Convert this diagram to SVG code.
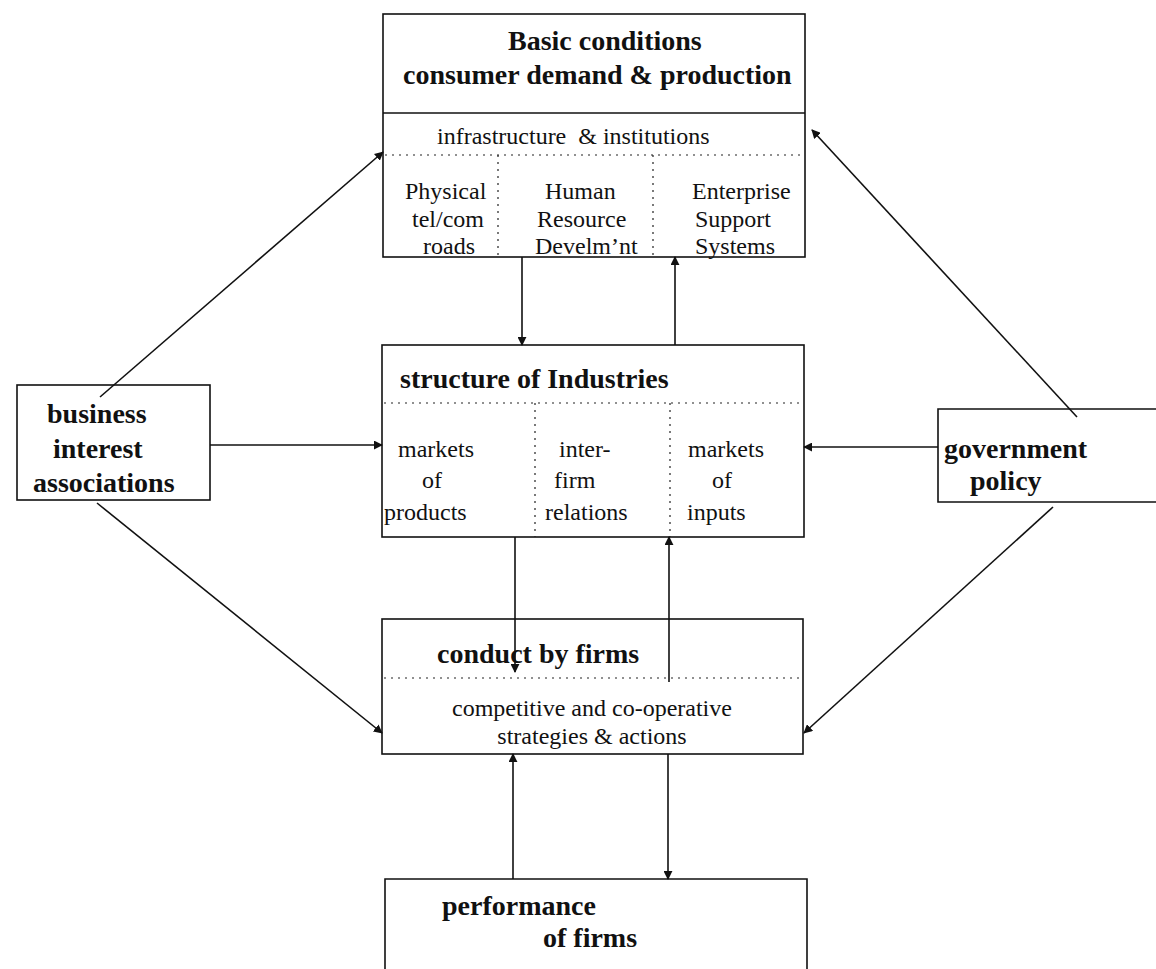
<svg xmlns="http://www.w3.org/2000/svg" width="1156" height="969" viewBox="0 0 1156 969">
<style>
.box{fill:#fff;stroke:#111;stroke-width:1.6}
.dot{stroke:#222;stroke-width:1.2;stroke-dasharray:2 5;fill:none}
.solid{stroke:#111;stroke-width:1.6;fill:none}
.h{font-family:"Liberation Serif",serif;font-weight:bold;font-size:28px;fill:#111}
.t{font-family:"Liberation Serif",serif;font-size:24px;fill:#111}
.c{stroke:#111;stroke-width:1.6;fill:none;marker-end:url(#ah)}
</style>
<defs>
<marker id="ah" viewBox="0 0 10 10" refX="9" refY="5" markerWidth="9" markerHeight="9" markerUnits="userSpaceOnUse" orient="auto">
<path d="M0,0 L10,5 L0,10 z" fill="#111"/>
</marker>
</defs>
<rect width="1156" height="969" fill="#fff"/>
<g id="basic-conditions">
<rect class="box" x="383" y="14" width="422" height="243"/>
<line class="solid" x1="383" y1="113" x2="805" y2="113"/>
<line class="dot" x1="385" y1="155" x2="803" y2="155"/>
<line class="dot" x1="498" y1="155" x2="498" y2="257"/>
<line class="dot" x1="653" y1="155" x2="653" y2="257"/>
<text class="h" x="508" y="50">Basic conditions</text>
<text class="h" x="403" y="84">consumer demand &amp; production</text>
<text class="t" x="437" y="144" xml:space="preserve">infrastructure  &amp; institutions</text>
<text class="t" x="405" y="199">Physical</text>
<text class="t" x="412" y="227">tel/com</text>
<text class="t" x="423" y="254">roads</text>
<text class="t" x="545" y="199">Human</text>
<text class="t" x="537" y="227">Resource</text>
<text class="t" x="535" y="254">Develm’nt</text>
<text class="t" x="692" y="199">Enterprise</text>
<text class="t" x="695" y="227">Support</text>
<text class="t" x="695" y="254">Systems</text>
</g>
<g id="structure-of-industries">
<rect class="box" x="382" y="345" width="422" height="192"/>
<line class="dot" x1="384" y1="403" x2="802" y2="403"/>
<line class="dot" x1="535" y1="403" x2="535" y2="537"/>
<line class="dot" x1="670" y1="403" x2="670" y2="537"/>
<text class="h" x="400" y="388">structure of Industries</text>
<text class="t" x="398" y="457">markets</text>
<text class="t" x="422" y="488">of</text>
<text class="t" x="384" y="520">products</text>
<text class="t" x="559" y="457">inter-</text>
<text class="t" x="554" y="488">firm</text>
<text class="t" x="545" y="520">relations</text>
<text class="t" x="688" y="457">markets</text>
<text class="t" x="712" y="488">of</text>
<text class="t" x="687" y="520">inputs</text>
</g>
<g id="conduct-by-firms">
<rect class="box" x="382" y="619" width="421" height="135"/>
<line class="dot" x1="384" y1="678" x2="801" y2="678"/>
<text class="h" x="437" y="663">conduct by firms</text>
<text class="t" x="592" y="716" text-anchor="middle">competitive and co-operative</text>
<text class="t" x="592" y="744" text-anchor="middle">strategies &amp; actions</text>
</g>
<g id="performance-of-firms">
<path class="solid" d="M385,975 L385,879 L807,879 L807,975"/>
<text class="h" x="442" y="915">performance</text>
<text class="h" x="543" y="947">of firms</text>
</g>
<g id="business-interest-associations">
<rect class="box" x="17" y="385" width="193" height="115"/>
<text class="h" x="47" y="423">business</text>
<text class="h" x="53" y="458">interest</text>
<text class="h" x="33" y="492">associations</text>
</g>
<g id="government-policy">
<path class="box" d="M1160,409 L938,409 L938,502 L1160,502"/>
<text class="h" x="944" y="458">government</text>
<text class="h" x="970" y="490">policy</text>
</g>
<g id="connectors">
<line class="c" x1="100" y1="397" x2="383" y2="152"/>
<line class="c" x1="1077" y1="417" x2="812" y2="130"/>
<line class="c" x1="210" y1="445" x2="382" y2="445"/>
<line class="c" x1="938" y1="447" x2="804" y2="447"/>
<line class="c" x1="97" y1="503" x2="382" y2="733"/>
<line class="c" x1="1053" y1="507" x2="804" y2="733"/>
<line class="c" x1="522" y1="257" x2="522" y2="345"/>
<line class="c" x1="675" y1="345" x2="675" y2="257"/>
<line class="c" x1="515" y1="537" x2="515" y2="672"/>
<line class="c" x1="669" y1="682" x2="669" y2="537"/>
<line class="c" x1="513" y1="879" x2="513" y2="754"/>
<line class="c" x1="668" y1="754" x2="668" y2="879"/>
</g>
</svg>
